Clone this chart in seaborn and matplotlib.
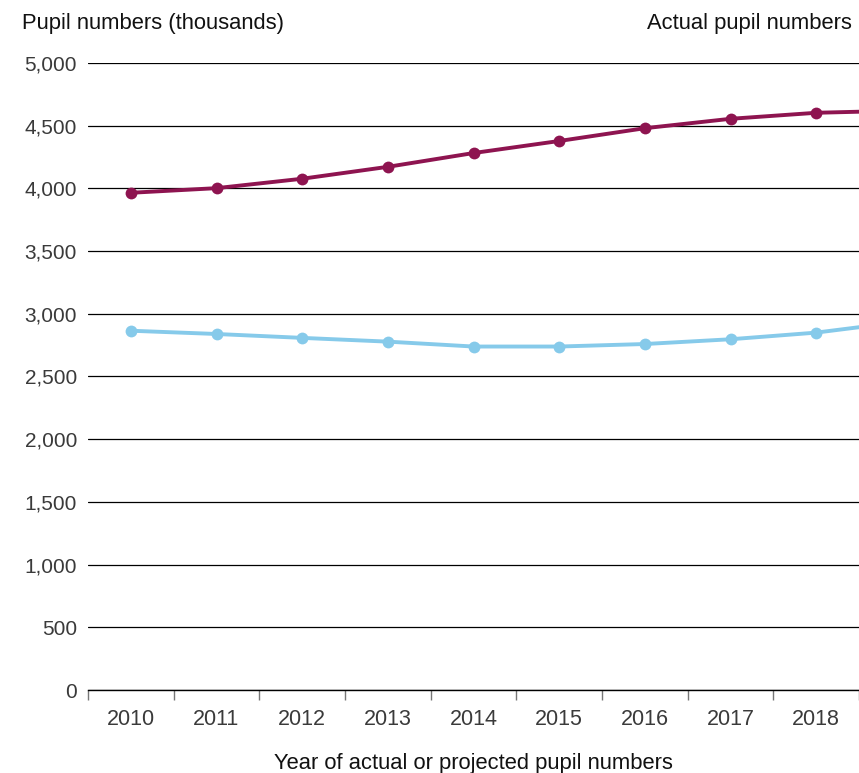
import matplotlib
matplotlib.use("Agg")
import matplotlib.pyplot as plt
from matplotlib.ticker import FuncFormatter, FixedLocator
import numpy as np
import pandas as pd
import seaborn as sns

# data (thousands of pupils)
years = [2010, 2011, 2012, 2013, 2014, 2015, 2016, 2017, 2018, 2019]
upper_series = [3965, 4002, 4077, 4172, 4282, 4378, 4480, 4555, 4603, 4620]
lower_series = [2865, 2839, 2808, 2778, 2739, 2739, 2759, 2797, 2850, 2936]
year_labels = ["2010", "2011", "2012", "2013", "2014", "2015", "2016", "2017", "2018"]

purple = "#8E1450"
blue = "#86CAEA"
grey_txt = "#3a3a3a"

sns.set_style("white")
plt.rcParams["font.family"] = ["Liberation Sans", "DejaVu Sans"]

df = pd.DataFrame({"Year": years + years,
                   "Pupils": upper_series + lower_series,
                   "Series": ["upper"] * len(years) + ["lower"] * len(years)})

fig = plt.figure(figsize=(8.59, 7.73), dpi=100)
ax = fig.add_axes([88 / 859, 1 - 690 / 773, (859 - 88) / 859, (690 - 63) / 773])

sns.lineplot(data=df, x="Year", y="Pupils", hue="Series",
             palette={"upper": purple, "lower": blue},
             marker="o", markersize=8.5, markeredgewidth=0, linewidth=2.8,
             legend=False, ax=ax, clip_on=True)

ax.set_xlim(2009.5, 2018.5)
ax.set_ylim(0, 5000)

ax.set_yticks(np.arange(0, 5001, 500))
ax.yaxis.set_major_formatter(FuncFormatter(lambda v, p: f"{int(v):,}"))
ax.grid(axis="y", color="black", linewidth=0.9)
ax.grid(axis="x", visible=False)
ax.tick_params(axis="y", length=0, pad=8, labelsize=15, labelcolor=grey_txt)

yrs = years[:len(year_labels)]
ax.set_xticks(yrs)
ax.set_xticklabels(year_labels)
ax.tick_params(axis="x", which="major", length=0, pad=14, labelsize=15.5, labelcolor=grey_txt)
ax.xaxis.set_minor_locator(FixedLocator(np.arange(2009.5, 2018.6, 1)))
ax.tick_params(axis="x", which="minor", bottom=True, length=7, width=1,
               color="#777777", direction="out")

for s in ["left", "right", "top"]:
    ax.spines[s].set_visible(False)
ax.spines["bottom"].set_color("black")
ax.spines["bottom"].set_linewidth(1)

ax.set_ylabel("")
ax.set_xlabel("Year of actual or projected pupil numbers", fontsize=15.8, labelpad=16, color="#111111")

fig.text(22 / 859, 1 - 23 / 773, "Pupil numbers (thousands)", fontsize=15.8,
         ha="left", va="center", color="#111111")
fig.text(852 / 859, 1 - 23 / 773, "Actual pupil numbers", fontsize=15.8,
         ha="right", va="center", color="#111111")

fig.savefig("out.png", dpi=100)
